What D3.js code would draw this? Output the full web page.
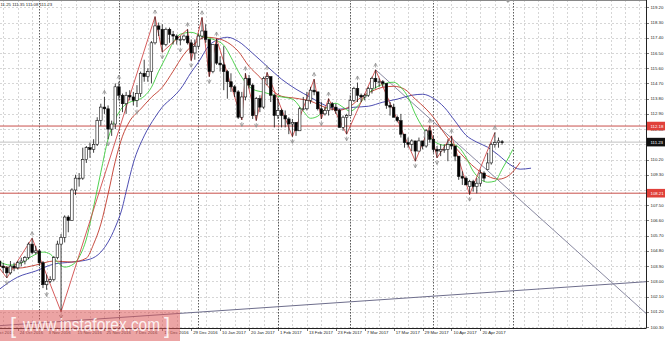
<!DOCTYPE html>
<html>
<head>
<meta charset="utf-8">
<script src="https://cdn.jsdelivr.net/npm/d3@7"></script>
<style>
  body { margin: 0; background: #fff; }
  svg { display: block; font-family: "Liberation Sans", Arial, sans-serif; }
</style>
</head>
<body>
<div id="chart"></div>
<script>
// daily USDJPY bars, 17 Oct 2016 .. 28 Apr 2017 (index 0 .. 139)
const opens = [104.2,103.9,103.8,103.5,103.9,103.8,104.1,104.2,104.4,105.2,
  104.7,104.8,104.1,102.8,103.0,103.1,104.4,105.2,105.6,106.8,
  106.6,108.4,109.1,109.1,110.2,110.9,110.8,111.1,112.5,113.3,
  113.2,112.0,112.3,114.5,114.0,113.5,114.0,113.9,113.7,114.1,
  115.3,115.1,115.4,117.1,118.1,117.9,117.0,117.9,117.6,117.5,
  117.3,117.3,117.5,117.1,116.5,116.9,117.5,117.8,117.3,115.4,
  117.0,115.9,115.8,115.4,114.8,114.5,114.2,112.7,113.9,115.0,
  114.6,112.8,113.8,113.3,115.0,115.1,114.0,112.8,113.1,112.8,
  112.6,112.3,112.4,111.9,113.2,113.2,113.7,114.3,114.2,113.2,
  112.9,113.1,113.5,113.3,113.1,112.1,112.7,112.8,113.7,114.4,
  114.0,113.9,114.0,114.4,115.0,114.8,114.8,114.7,113.4,113.3,
  112.7,112.5,111.7,111.2,111.1,111.3,110.7,111.3,111.0,111.9,
  111.4,110.8,110.7,110.8,110.8,111.1,111.0,110.4,109.2,109.1,
  108.6,108.9,108.6,108.8,109.4,109.6,110.0,111.1,111.2,111.25];
const highs = [104.3,104.1,103.9,104.2,104.1,104.2,104.4,104.5,105.3,105.55,
  105.1,104.9,104.2,103.4,103.3,104.5,105.4,105.8,106.9,106.9,
  108.5,109.3,109.4,110.9,111.0,111.2,111.4,112.7,113.5,113.9,
  113.4,112.5,114.7,114.8,114.1,114.2,114.3,114.2,114.6,115.4,
  116.1,115.6,117.2,118.65,118.3,118.2,118.0,118.0,117.8,117.6,
  117.5,117.6,117.9,117.3,117.3,117.6,118.6,118.2,117.3,117.0,
  117.35,116.3,116.9,115.5,115.3,114.6,114.3,114.2,115.3,115.2,
  114.7,113.9,114.0,115.1,115.35,115.1,114.1,113.8,113.2,113.1,
  112.7,112.6,112.4,113.3,113.9,114.2,114.5,114.95,114.2,113.6,
  113.3,113.8,113.6,113.5,113.2,112.8,112.9,114.0,114.5,114.75,
  114.1,114.1,114.5,115.1,115.5,115.0,114.9,114.7,113.6,113.5,
  112.8,112.9,111.7,111.5,111.4,111.3,111.5,111.3,112.0,112.2,
  111.6,111.0,111.1,111.1,111.4,111.6,111.0,110.4,109.5,109.2,
  109.0,109.0,109.1,109.6,109.5,110.6,111.2,111.8,111.5,111.35];
const lows = [103.6,103.5,103.2,103.4,103.6,103.7,103.9,104.0,104.3,104.6,
  104.6,103.9,102.6,102.5,102.9,103.0,104.3,101.2,105.3,105.9,
  106.6,108.1,108.6,109.0,110.0,110.3,110.6,111.0,112.2,112.9,
  111.4,111.6,112.0,113.7,113.0,112.9,113.7,113.4,113.3,113.9,
  114.8,114.8,114.7,117.0,117.5,116.55,116.9,117.1,117.0,117.0,
  116.95,117.2,117.0,116.05,116.1,116.8,117.3,117.1,115.1,115.3,
  115.8,115.4,114.3,113.8,114.2,113.9,112.6,112.55,113.7,114.4,
  112.6,112.5,113.0,113.2,114.6,113.6,112.1,112.6,112.1,112.1,
  111.7,111.55,111.6,111.9,113.1,113.1,113.5,114.0,113.1,112.6,
  112.8,112.8,113.1,112.9,112.1,111.9,111.7,112.8,113.6,113.6,
  113.6,113.7,113.9,114.1,114.4,114.5,114.5,113.2,112.8,112.7,
  112.4,111.5,110.9,110.9,110.7,110.1,110.7,110.8,110.9,111.2,
  110.6,110.3,110.4,110.6,110.1,110.8,110.1,109.0,108.7,108.7,
  108.13,108.3,108.2,108.6,108.9,109.6,109.9,110.9,110.9,111.08];
const closes = [103.9,103.8,103.5,103.9,103.8,104.1,104.2,104.4,105.2,104.7,
  104.8,104.1,102.8,103.0,103.1,104.4,105.2,105.6,106.8,106.6,
  108.4,109.1,109.1,110.2,110.9,110.8,111.1,112.5,113.3,113.2,
  112.0,112.3,114.5,114.0,113.5,114.0,113.9,113.7,114.1,115.3,
  115.1,115.4,117.1,118.1,117.9,117.0,117.9,117.6,117.5,117.3,
  117.3,117.5,117.1,116.5,116.9,117.5,117.8,117.3,115.4,117.0,
  115.9,115.8,115.4,114.8,114.5,114.2,112.7,113.9,115.0,114.6,
  112.8,113.8,113.3,115.0,115.1,114.0,112.8,113.1,112.8,112.6,
  112.3,112.4,111.9,113.2,113.2,113.7,114.3,114.2,113.2,112.9,
  113.1,113.5,113.3,113.1,112.1,112.7,112.8,113.7,114.4,114.0,
  113.9,114.0,114.4,115.0,114.8,114.8,114.7,113.4,113.3,112.7,
  112.5,111.7,111.2,111.1,111.3,110.7,111.3,111.0,111.9,111.4,
  110.8,110.7,110.8,110.8,111.1,111.0,110.4,109.2,109.1,108.7,
  108.9,108.6,108.8,109.4,109.1,110.0,111.1,111.2,111.3,111.23];

const jawIdx = [0,5,10,15,20,25,28,30,32,34,35,37,40,43,45,48,50,53,55,58,60,63,66,70,74,78,82,86,90,94,98,102,106,110,114,117,120,123,126,129,132,135,138,141,144,147];
const jawVals = [102.54,103.25,103.61,104.02,104.14,104.31,104.73,105.32,106.2,107.4,108.3,110.0,111.6,112.7,113.3,113.9,114.36,115.36,115.95,116.96,117.25,117.43,117.19,116.48,115.71,114.95,114.36,113.88,113.41,113.18,113.29,113.35,113.59,113.77,114.0,114.06,113.82,113.29,112.47,111.64,111.23,110.93,110.46,109.93,109.63,109.69];
const teethIdx = [0,5,10,15,20,24,26,28,30,32,34,36,39,42,45,48,51,54,57,60,63,66,69,72,75,78,82,86,90,94,97,100,103,106,109,112,115,118,120,123,126,129,132,135,138,141,144];
const teethVals = [103.9,103.78,103.96,104.2,104.14,104.37,105.2,106.38,108.15,110.1,111.58,112.47,113.18,113.88,114.47,115.42,116.42,117.07,117.43,117.37,117.13,116.6,115.71,115.07,114.36,113.94,113.82,113.65,113.29,113.12,113.35,113.88,114.24,114.47,114.53,114.36,113.77,113.18,112.7,111.76,110.93,110.22,109.63,109.22,109.04,109.28,110.04];
const lipsIdx = [0,3,6,9,12,14,16,18,20,22,24,26,28,30,32,34,36,38,40,42,44,46,48,50,53,56,59,62,64,66,68,70,73,77,81,84,86,88,90,93,95,97,99,101,103,106,109,111,113,115,117,119,121,123,125,127,129,131,133,135,137,139,141,142];
const lipsVals = [104.14,103.96,104.08,104.49,104.73,104.61,104.14,103.84,103.96,104.43,105.5,107.39,109.45,111.4,112.58,113.29,113.59,113.71,113.94,114.47,115.42,116.25,117.13,117.61,117.72,117.49,117.31,116.96,116.25,115.42,114.77,114.36,114.18,113.94,113.77,113.06,112.64,112.76,113.18,113.53,113.29,113.06,113.35,113.88,114.3,114.65,114.77,114.47,113.88,112.88,112.11,111.52,111.17,111.05,111.11,110.93,110.34,109.51,109.04,108.86,108.92,109.63,110.4,110.81];

// zigzag pivots [bar, price]
const zigzag = [[-4,104.9],[2,103.2],[9,105.55],[17,101.2],[43,118.65],[45,116.55],[52,117.9],[53,116.05],[56,118.6],[58,115.1],[60,117.35],[67,112.55],[68,115.3],[71,112.5],[74,115.35],[81,111.55],[87,114.95],[89,112.6],[91,113.8],[96,111.7],[104,115.5],[115,110.1],[119,112.2],[121,110.3],[125,111.6],[130,108.13],[137,111.8]];
const fractalUp = [9,29,33,43,52,56,60,68,74,87,91,99,104,119,125,137];
const fractalDown = [2,13,17,30,38,45,50,53,58,67,71,81,89,96,115,121,130];

const trendDown = [[104,115.51],[179,101.07]];
const trendUp = [[0,100.38],[179,102.98]];
const levels = [112.18, 108.21];
const lastPrice = 111.23;
const header = "11.25 111.35 111.08 111.23";

const priceTicks = [119.20,118.30,117.40,116.50,115.60,114.70,113.80,112.90,112.00,111.10,110.20,109.30,108.40,107.50,106.60,105.70,104.80,103.90,103.00,102.10,101.20,100.30];
const dateIdx = [-3,5,13,21,29,37,45,53,61,69,77,85,93,101,109,117,125,133];
const dateLabels = ["12 Oct 2016","24 Oct 2016","3 Nov 2016","15 Nov 2016","25 Nov 2016","7 Dec 2016","19 Dec 2016","29 Dec 2016","10 Jan 2017","20 Jan 2017","1 Feb 2017","13 Feb 2017","23 Feb 2017","7 Mar 2017","17 Mar 2017","29 Mar 2017","10 Apr 2017","20 Apr 2017"];
const monthStarts = [11,33,55,77,97,120,142];
const shiftIdx = 140.6;

const W = 665, H = 341, plotR = 646.5, plotB = 328;
const svg = d3.select('#chart').append('svg').attr('width', W).attr('height', H);

const x = d3.scaleLinear().domain([0, 139]).range([-0.4, 502.1]);
const y = d3.scaleLinear().domain([100.30, 119.20]).range([327, 7.3]);

// tiny text: drawn at double size and scaled down (browser minimum font size)
const tiny = (sel, tx, ty, str, fill) => sel.append('text')
  .attr('transform', `translate(${tx},${ty}) scale(0.5)`)
  .style('font-size', '8.6px').style('fill', fill || '#222').text(str);

svg.append('clipPath').attr('id', 'plot').append('rect').attr('x', 0).attr('y', 0).attr('width', plotR).attr('height', plotB);
const g = svg.append('g').attr('clip-path', 'url(#plot)');

// grid
const gridIdx = d3.range(-3, 180, 4);
g.selectAll('line.vg').data(gridIdx).enter().append('line')
  .attr('x1', (d) => Math.round(x(d)) + 0.5).attr('x2', (d) => Math.round(x(d)) + 0.5)
  .attr('y1', 0).attr('y2', plotB)
  .style('stroke', '#c4c4c4').style('stroke-width', 0.7).style('stroke-dasharray', '2,2');
g.selectAll('line.hg').data(priceTicks).enter().append('line')
  .attr('x1', 0).attr('x2', plotR)
  .attr('y1', (d) => Math.round(y(d)) + 0.5).attr('y2', (d) => Math.round(y(d)) + 0.5)
  .style('stroke', '#c4c4c4').style('stroke-width', 0.7).style('stroke-dasharray', '2,2');

// period separators
g.selectAll('line.sep').data(monthStarts).enter().append('line')
  .attr('x1', (d) => Math.round(x(d)) + 0.5).attr('x2', (d) => Math.round(x(d)) + 0.5)
  .attr('y1', 0).attr('y2', plotB)
  .style('stroke', '#333').style('stroke-width', 0.8).style('stroke-dasharray', '1.5,1.5');

// horizontal levels
g.append('line').attr('x1', 0).attr('x2', plotR)
  .attr('y1', y(lastPrice)).attr('y2', y(lastPrice))
  .style('stroke', '#c0c0c0').style('stroke-width', 1);
g.selectAll('line.lvl').data(levels).enter().append('line')
  .attr('x1', 0).attr('x2', plotR)
  .attr('y1', (d) => y(d)).attr('y2', (d) => y(d))
  .style('stroke', '#c8504b').style('stroke-width', 1);

// trend lines
const seg = d3.line().x((d) => x(d[0])).y((d) => y(d[1]));
g.append('path').attr('d', seg(trendUp)).style('fill', 'none').style('stroke', '#6e6e8c').style('stroke-width', 1);
g.append('path').attr('d', seg(trendDown)).style('fill', 'none').style('stroke', '#7a7a95').style('stroke-width', 0.9);

// alligator
const smooth = d3.line().x((d) => x(d[0])).y((d) => y(d[1])).curve(d3.curveMonotoneX);
const zipped = (idx, vals) => idx.map((d, i) => [d, vals[i]]);
g.append('path').attr('d', smooth(zipped(jawIdx, jawVals))).style('fill', 'none').style('stroke', '#3a3aa8').style('stroke-width', 0.9);
g.append('path').attr('d', smooth(zipped(teethIdx, teethVals))).style('fill', 'none').style('stroke', '#c0392b').style('stroke-width', 0.9);
g.append('path').attr('d', smooth(zipped(lipsIdx, lipsVals))).style('fill', 'none').style('stroke', '#3ccc3c').style('stroke-width', 0.9);

// zigzag
g.append('path').attr('d', seg(zigzag)).style('fill', 'none').style('stroke', '#d04a4a').style('stroke-width', 0.9);

// candles
const bars = d3.range(opens.length);
g.selectAll('line.wick').data(bars).enter().append('line')
  .attr('x1', (i) => x(i)).attr('x2', (i) => x(i))
  .attr('y1', (i) => y(highs[i])).attr('y2', (i) => y(lows[i]))
  .style('stroke', '#111').style('stroke-width', 0.8);
g.selectAll('rect.body').data(bars).enter().append('rect')
  .attr('x', (i) => x(i) - 1.3).attr('width', 2.6)
  .attr('y', (i) => y(Math.max(opens[i], closes[i])))
  .attr('height', (i) => Math.max(0.8, Math.abs(y(opens[i]) - y(closes[i]))))
  .style('fill', (i) => closes[i] >= opens[i] ? '#fff' : '#000')
  .style('stroke', '#111').style('stroke-width', 0.6);

// fractals
g.selectAll('path.fu').data(fractalUp).enter().append('path')
  .attr('transform', (i) => `translate(${x(i)},${y(highs[i]) - 5})`)
  .attr('d', 'M-1.8,1.8L0,-1.6L1.8,1.8M0,-1.6V2.6')
  .style('fill', 'none').style('stroke', '#909090').style('stroke-width', 0.8);
g.selectAll('path.fd').data(fractalDown).enter().append('path')
  .attr('transform', (i) => `translate(${x(i)},${y(lows[i]) + 5})`)
  .attr('d', 'M-1.8,-1.8L0,1.6L1.8,-1.8M0,1.6V-2.6')
  .style('fill', 'none').style('stroke', '#909090').style('stroke-width', 0.8);

// frame
svg.append('line').attr('x1', 0).attr('x2', plotR).attr('y1', 0.5).attr('y2', 0.5).style('stroke', '#888').style('stroke-width', 1);
svg.append('line').attr('x1', plotR).attr('x2', plotR).attr('y1', 0).attr('y2', plotB).style('stroke', '#222').style('stroke-width', 1);
svg.append('line').attr('x1', 0).attr('x2', plotR).attr('y1', plotB + 0.5).attr('y2', plotB + 0.5).style('stroke', '#222').style('stroke-width', 1);

// chart shift marker
svg.append('path').attr('d', `M${x(shiftIdx) - 2.5},0L${x(shiftIdx) + 2.5},0L${x(shiftIdx)},3Z`).style('fill', '#999');

// price axis
const ya = svg.append('g');
ya.selectAll('line').data(priceTicks).enter().append('line')
  .attr('x1', plotR).attr('x2', plotR + 2.5)
  .attr('y1', (d) => Math.round(y(d)) + 0.5).attr('y2', (d) => Math.round(y(d)) + 0.5)
  .style('stroke', '#222').style('stroke-width', 0.6);
priceTicks.forEach((d) => tiny(ya, 650.5, y(d) + 1.6, d.toFixed(2)));

const tag = (v, fill) => {
  const t = svg.append('g');
  t.append('rect').attr('x', plotR + 0.5).attr('y', y(v) - 4.3).attr('width', 18).attr('height', 8.6).style('fill', fill);
  tiny(t, 650.5, y(v) + 1.6, v.toFixed(2), '#fff');
};
levels.forEach((v) => tag(v, '#e0403a'));
tag(lastPrice, '#111');

// time axis
const xa = svg.append('g');
xa.selectAll('line').data(dateIdx).enter().append('line')
  .attr('x1', (d) => Math.round(x(d)) + 0.5).attr('x2', (d) => Math.round(x(d)) + 0.5)
  .attr('y1', plotB).attr('y2', plotB + 3)
  .style('stroke', '#222').style('stroke-width', 0.6);
dateIdx.forEach((d, i) => tiny(xa, x(d) + 2, plotB + 6, dateLabels[i]));

// header
tiny(svg, 0.5, 5.5, header);

// watermark
const wm = svg.append('g');
wm.append('rect').attr('x', 0).attr('y', 310).attr('width', 180).attr('height', 31).style('fill', '#dc5a5a').style('opacity', 0.55);
wm.append('text').attr('x', 10).attr('y', 333).style('font-size', '22px').style('font-weight', 300).style('fill', '#fff').style('opacity', 0.85).text('[');
wm.append('text').attr('x', 23).attr('y', 331).attr('textLength', 137).attr('lengthAdjust', 'spacingAndGlyphs')
  .style('font-size', '19px').style('fill', '#fff').style('opacity', 0.85).text('www.instaforex.com');
wm.append('text').attr('x', 164).attr('y', 333).style('font-size', '22px').style('fill', '#fff').style('opacity', 0.85).text(']');
</script>
</body>
</html>
